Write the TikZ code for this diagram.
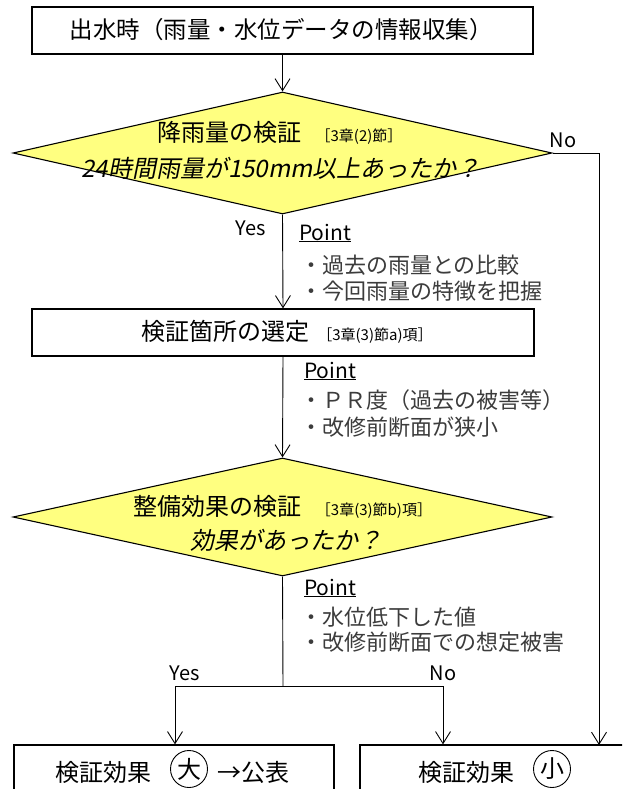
\documentclass[tikz,border=0pt]{standalone}
\usepackage{fontspec}
\setmainfont{Noto Sans CJK JP}
\newfontfamily\jpit{Noto Sans CJK JP}[FakeSlant=0.2]
\usetikzlibrary{shapes.geometric,arrows.meta,calc}
\definecolor{dfill}{RGB}{255,255,128}
\definecolor{ptgray}{RGB}{60,60,60}
\begin{document}
\begin{tikzpicture}[x=1pt,y=-1pt,
 box/.style={draw=black,line width=1.3pt,minimum height=47pt,inner sep=0pt},
 dec/.style={diamond,draw=black,line width=1.1pt,fill=dfill,inner sep=0pt,minimum width=539pt},
 arr/.style={line width=0.9pt,-{Straight Barb[length=12pt,width=15pt,line width=0.9pt]}},
 ln/.style={line width=0.9pt},
 main/.style={font=\fontsize{24}{28}\selectfont,inner sep=0pt},
 lbl/.style={font=\fontsize{20}{24}\selectfont,inner sep=0pt},
 pt/.style={font=\fontsize{21}{24}\selectfont,anchor=west,inner sep=0pt},
 bul/.style={font=\fontsize{22}{26}\selectfont,text=ptgray,anchor=west,inner sep=0pt},
 ]
\useasboundingbox (0,0) rectangle (622,789);
\fill[white] (0,0) rectangle (622,789);
\clip (0,0) rectangle (622,789);

% boxes and decisions
\node[box,minimum width=501pt] (top) at (282.5,30.5) {};
\node[main,font=\fontsize{23.5}{28}\selectfont] (toptext) at (281,30) {出水時（雨量・水位データの情報収集）};

\node[dec,minimum height=122pt] (d1) at (282.5,153) {};
\node[main] (d1a) at (280,133) {降雨量の検証\hspace{14pt}{\fontsize{15}{18}\selectfont［3章(2)節］}};
\node[main,font=\jpit\fontsize{24}{28}\selectfont] (d1b) at (281,168) {24時間雨量が150mm以上あったか？};

\node[box,minimum width=502pt] (b2) at (283,332.5) {};
\node[main] (b2t) at (287,332) {検証箇所の選定\hspace{8pt}{\fontsize{15}{18}\selectfont［3章(3)節a)項］}};

\node[dec,minimum height=118pt] (d2) at (282.5,517) {};
\node[main] (d2a) at (283,507) {整備効果の検証\hspace{14pt}{\fontsize{15}{18}\selectfont［3章(3)節b)項］}};
\node[main,font=\jpit\fontsize{24}{28}\selectfont] (d2b) at (286,540) {効果があったか？};

\node[box,minimum width=320pt,minimum height=60pt] (bl) at (174,775) {};
\node[box,minimum width=270pt,minimum height=60pt] (br) at (495,775) {};

\node[main,anchor=west] (blt) at (55,772) {検証効果};
\node[draw,circle,line width=0.9pt,minimum size=37pt,inner sep=0pt,font=\fontsize{24}{28}\selectfont] (c1) at (189,769) {大};
\node[main,anchor=west] (blt2) at (217,772) {→公表};
\node[main,anchor=west] (brt) at (418,772) {検証効果};
\node[draw,circle,line width=0.9pt,minimum size=37pt,inner sep=0pt,font=\fontsize{24}{28}\selectfont] (c2) at (552,769) {小};

% connectors
\draw[arr] (top.south) -- (d1.north);
\draw[arr] (d1.south) -- (b2.north);
\draw[arr] (b2.south) -- (d2.north);
\coordinate (nocorner) at (599,153);
\coordinate (brin) at (599,745);
\draw[arr] (d1.east) -- (nocorner) -- (brin);
\coordinate (split) at (283,686);
\coordinate (yl) at (175,686);
\coordinate (nl) at (443,686);
\draw[ln] (d2.south) -- (split);
\draw[ln] (yl) -- (nl);
\draw[arr] (yl) -- (yl |- bl.north);
\draw[arr] (nl) -- (nl |- br.north);

% labels
\node[lbl] (yes1) at (251,228) {Yes};
\node[lbl] (no1) at (563,140) {No};
\node[lbl] (yes2) at (185,673) {Yes};
\node[lbl] (no2) at (443,673) {No};

% points
\node[pt] (p1) at (299,233) {\underline{Point}};
\node[bul] (p1a) at (300,265) {・過去の雨量との比較};
\node[bul] (p1b) at (300,291) {・今回雨量の特徴を把握};
\node[pt] (p2) at (304,371) {\underline{Point}};
\node[bul] (p2a) at (300,400) {・ＰＲ度（過去の被害等）};
\node[bul] (p2b) at (300,427) {・改修前断面が狭小};
\node[pt] (p3) at (304,588) {\underline{Point}};
\node[bul] (p3a) at (300,617) {・水位低下した値};
\node[bul] (p3b) at (300,642) {・改修前断面での想定被害};
\end{tikzpicture}
\end{document}
